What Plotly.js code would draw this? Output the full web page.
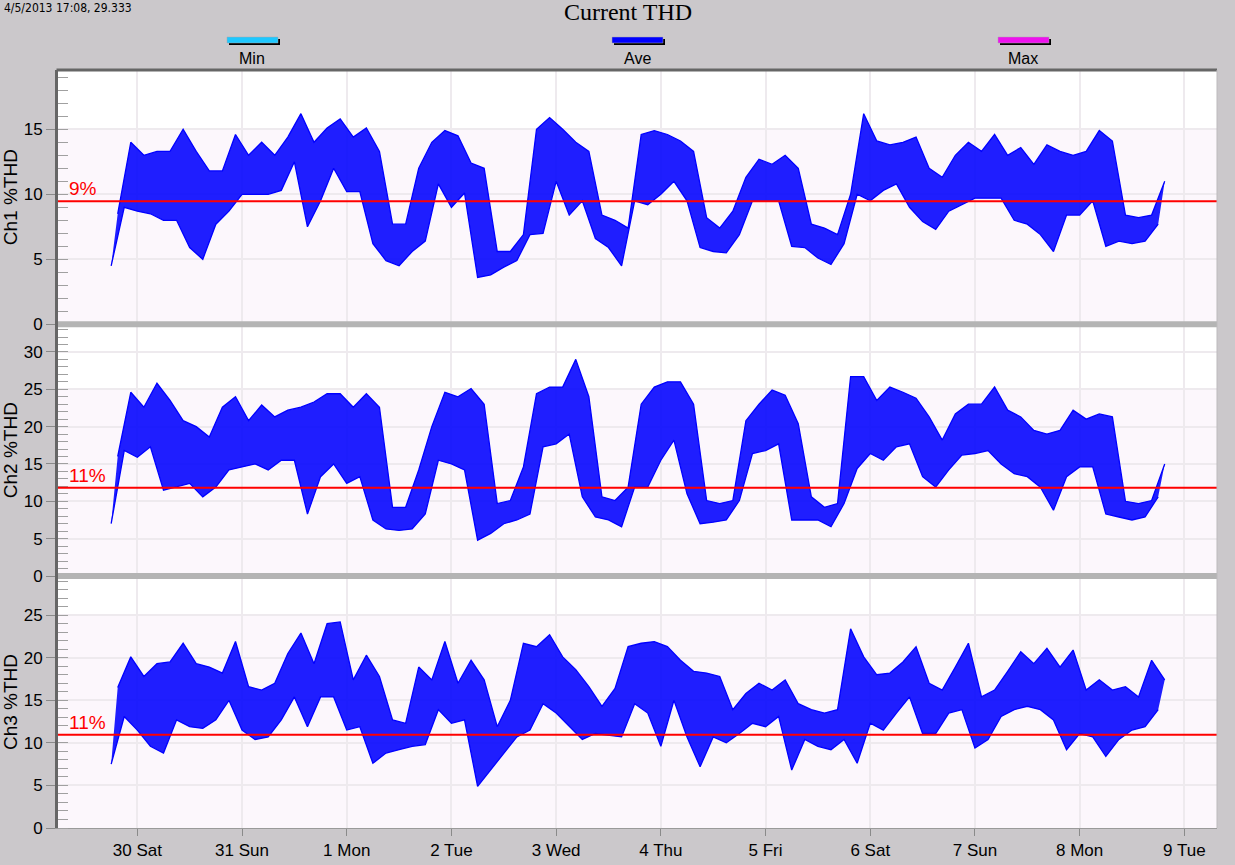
<!DOCTYPE html>
<html>
<head>
<meta charset="utf-8">
<script src="https://cdn.plot.ly/plotly-3.0.1.min.js"></script>
<style>
  body { margin: 0; background: #cbc8cb; }
  #chart { width: 1235px; height: 865px; }
</style>
</head>
<body>
<div id="chart"></div>
<script>
// one reading per 3 hours from 29 Mar 2013 18:00: low and high edge of the noisy trace
var sampleStart = Date.UTC(2013, 2, 29, 18, 0);
var sampleStepH = 3;

var ch1Lo = [4.5, 9, 8.7, 8.5, 8, 8, 5.9, 5.0, 7.7, 8.7, 10, 10, 10, 10.3, 12.5, 7.5, 9.5, 12, 10.2, 10.2,
  6.2, 4.9, 4.5, 5.6, 6.4, 10.8, 9, 10.1, 3.6, 3.8, 4.4, 4.9, 6.9, 7, 11, 8.4, 9.5, 6.6, 5.9, 4.5,
  9.5, 9.2, 10, 11, 9.5, 5.9, 5.6, 5.5, 6.9, 9.5, 9.5, 9.5, 6, 5.9, 5.1, 4.6, 6.2, 10, 9.5, 10.3,
  10.8, 9, 7.9, 7.3, 8.7, 9.2, 9.7, 9.7, 9.7, 8, 7.7, 6.9, 5.6, 8.4, 8.4, 9.5, 6, 6.4, 6.2, 6.4, 7.7];
var ch1Hi = [8.5, 14, 13, 13.3, 13.3, 15, 13.3, 11.8, 11.8, 14.6, 13, 14, 13, 14.4, 16.2, 14, 15.1, 15.8, 14.4, 15.1,
  13.3, 7.7, 7.7, 12, 14, 14.9, 14.5, 12.4, 12, 5.6, 5.6, 6.9, 15, 15.9, 15, 14, 13.3, 8.4, 8, 7.4,
  14.6, 14.9, 14.6, 14.1, 13.3, 8.2, 7.4, 8.7, 11.3, 12.7, 12.3, 13, 12, 7.7, 7.4, 6.9, 10, 16.2, 14.1, 13.8,
  14, 14.4, 12, 11.3, 13, 14, 13.3, 14.6, 13, 13.6, 12.3, 13.8, 13.3, 13, 13.3, 14.9, 14.1, 8.4, 8.2, 8.4, 11];

var ch2Lo = [7, 16.8, 15.9, 17.3, 11.5, 11.9, 12.4, 10.6, 11.9, 14.2, 14.6, 15, 14.2, 15.5, 15.5, 8.3, 13.3, 15, 12.4, 13.3,
  7.5, 6.3, 6.1, 6.3, 8.3, 15.5, 15, 14.2, 4.8, 5.7, 7, 7.5, 8.3, 17.3, 17.7, 19, 10.6, 7.9, 7.5, 6.6,
  11.9, 11.9, 15.5, 18.2, 11, 7, 7.2, 7.5, 10.1, 16.4, 16.8, 17.7, 7.5, 7.5, 7.5, 6.6, 9.7, 14.4, 16.4, 15.5,
  17.3, 17.7, 13.3, 11.9, 14.2, 16.2, 16.4, 16.8, 15, 13.7, 13.3, 11.9, 8.8, 13.3, 14.6, 14.6, 8.3, 7.9, 7.5, 7.9, 10.6];
var ch2Hi = [16, 24.6, 22.6, 25.8, 23.5, 20.8, 20, 18.6, 22.6, 24, 20.8, 22.9, 21.3, 22.2, 22.6, 23.3, 24.4, 24.4, 22.6, 24.4,
  22.6, 9.2, 9.2, 14.2, 20, 24.6, 24, 25.1, 23, 9.7, 10.1, 14.6, 24.4, 25.3, 25.3, 29, 24, 10.6, 10.1, 11.9,
  23, 25.3, 26, 26, 23, 10.1, 9.7, 10.1, 20.8, 23, 24.9, 24.2, 20.4, 10.6, 9.2, 9.7, 26.7, 26.7, 23.5, 25.3,
  24.6, 23.8, 21.3, 18.2, 21.7, 23, 23, 25.3, 22.2, 21.3, 19.5, 19, 19.5, 22.2, 21, 21.7, 21.3, 10, 9.7, 10.1, 15];

var ch3Lo = [7.5, 13.1, 11.5, 9.6, 8.8, 12.7, 11.9, 11.7, 12.7, 15, 11.5, 10.4, 10.7, 12.7, 15.4, 11.9, 15.4, 15.4, 11.5, 11.9,
  7.6, 8.8, 9.2, 9.6, 9.8, 13.9, 12.3, 12.7, 4.9, 6.8, 8.8, 10.7, 11.5, 14.6, 13.5, 11.9, 10.4, 11.1, 10.9, 10.7,
  14.6, 13.5, 9.6, 15, 10.7, 7.2, 10.7, 10, 11.1, 12.3, 11.9, 13.1, 6.8, 10.4, 9.6, 9.2, 10.4, 7.6, 12.3, 11.5,
  13.5, 15.4, 11.1, 11.1, 13.5, 13.9, 9.4, 10.4, 13.1, 13.9, 14.3, 13.9, 12.7, 9.2, 11.1, 10.7, 8.4, 10.4, 11.5, 11.9, 13.9];
var ch3Hi = [16.5, 20.1, 17.8, 19.3, 19.5, 21.7, 19.3, 18.9, 18.2, 21.9, 16.6, 16.2, 17, 20.5, 22.9, 19.3, 24, 24.2, 17.4, 20.3,
  17.8, 12.7, 12.3, 18.9, 17.4, 21.9, 17, 19.7, 17.4, 11.9, 15, 21.7, 21.3, 22.7, 20.1, 18.6, 16.6, 14.3, 16.4, 21.3,
  21.7, 21.9, 21.3, 19.7, 18.4, 18.2, 17.8, 13.9, 15.8, 17, 16.2, 17.4, 14.6, 13.9, 13.5, 13.9, 23.4, 20.1, 18, 18.2,
  19.5, 21.3, 17, 16.2, 18.9, 21.7, 15.4, 16.2, 18.4, 20.7, 19.3, 21.1, 18.9, 20.9, 16.2, 17.4, 16.2, 16.6, 15.4, 19.7, 17.4];

var channelNames = ['Ch1 %THD', 'Ch2 %THD', 'Ch3 %THD'];
var limits = [9.46, 11.8, 10.95];
var limitLabels = ['9%', '11%', '11%'];
var yMax = [19.56, 33.7, 29.6];
var bandTop = [15, 25, 25];
var legendNames = ['Min', 'Ave', 'Max'];
var legendColors = ['#1ec8ff', '#0000ff', '#ee11ee'];
var cursorText = '4/5/2013 17:08, 29.333';

// page geometry (pixels)
var W = 1235, H = 865, ML = 58, MR = 18, MT = 70, MB = 37;
var plotW = W - ML - MR, plotH = H - MT - MB;
function px(x) { return (x - ML) / plotW; }
function py(y) { return (H - MB - y) / plotH; }

var hour = 3600000;
var tLo = ch1Lo.map(function (v, i) { return sampleStart + i * sampleStepH * hour; });
var tHi = tLo.map(function (t) { return t + sampleStepH * hour / 2; });

// top panel first: Ch1 -> y3, Ch2 -> y2, Ch3 -> y
var axisIds = ['y3', 'y2', 'y'];
var domains = [[py(324.3), 1], [py(576), py(324.3)], [0, py(576)]];
var lows = [ch1Lo, ch2Lo, ch3Lo];
var highs = [ch1Hi, ch2Hi, ch3Hi];

var data = [];
lows.forEach(function (lo, i) {
  data.push({x: tLo, y: lo, type: 'scatter', mode: 'lines', xaxis: 'x', yaxis: axisIds[i],
    line: {color: '#0000ff', width: 1.3}, hoverinfo: 'skip', showlegend: false});
  data.push({x: tHi, y: highs[i], type: 'scatter', mode: 'lines', xaxis: 'x', yaxis: axisIds[i],
    fill: 'tonexty', fillcolor: 'rgba(0,0,255,0.88)',
    line: {color: '#0000ff', width: 1.3}, hoverinfo: 'skip', showlegend: false});
});

var font = 'Liberation Sans, Arial, sans-serif';

function yAxis(i) {
  return {
    domain: domains[i], range: [0, yMax[i]], anchor: 'x',
    dtick: 5, tick0: 0,
    ticks: 'outside', ticklen: 9, tickcolor: '#8a8a8a', tickwidth: 1,
    tickfont: {family: font, size: 17, color: '#000'},
    minor: {ticks: 'inside', ticklen: 10, dtick: 1, tickcolor: '#a0a0a0', showgrid: false},
    showgrid: true, gridcolor: '#eeeaee', gridwidth: 2,
    showline: true, linecolor: '#666666', linewidth: 3,
    zeroline: false, fixedrange: true,
    title: {text: channelNames[i], font: {family: font, size: 19, color: '#000'}, standoff: 4}
  };
}

var shapes = [];
var annotations = [];

lows.forEach(function (s, i) {
  // faint shaded band
  shapes.push({type: 'rect', xref: 'paper', x0: 0, x1: 1, yref: axisIds[i], y0: 0, y1: bandTop[i],
    fillcolor: '#fcf7fc', line: {width: 0}, layer: 'below'});
  // limit line
  shapes.push({type: 'line', xref: 'paper', x0: 0, x1: 1, yref: axisIds[i], y0: limits[i], y1: limits[i],
    line: {color: '#ff0000', width: 2}});
  annotations.push({xref: 'paper', x: px(67), xanchor: 'left', yref: axisIds[i], y: limits[i],
    yanchor: 'bottom', text: limitLabels[i], showarrow: false,
    font: {family: font, size: 19, color: '#ff0000'}});
});

// grey separators between panels
[324.3, 576].forEach(function (y) {
  shapes.push({type: 'line', xref: 'paper', x0: 0, x1: 1, yref: 'paper', y0: py(y), y1: py(y),
    line: {color: '#b4b4b4', width: 6}});
});
// frame top and right
shapes.push({type: 'line', xref: 'paper', x0: px(56.5), x1: 1, yref: 'paper', y0: 1, y1: 1,
  line: {color: '#666666', width: 3}});
shapes.push({type: 'line', xref: 'paper', x0: 1, x1: 1, yref: 'paper', y0: 0, y1: 1,
  line: {color: '#bdbabd', width: 1}});

// legend keys
var legendCenters = [252, 637, 1023];
legendNames.forEach(function (name, i) {
  var cx = legendCenters[i];
  shapes.push({type: 'rect', xref: 'paper', yref: 'paper',
    x0: px(cx - 23), x1: px(cx + 28), y0: py(45), y1: py(39),
    fillcolor: '#000000', line: {width: 0}});
  shapes.push({type: 'rect', xref: 'paper', yref: 'paper',
    x0: px(cx - 25), x1: px(cx + 26), y0: py(43), y1: py(37),
    fillcolor: legendColors[i], line: {color: '#a8a8a8', width: 0.5}});
  annotations.push({xref: 'paper', yref: 'paper', x: px(cx), y: py(58), xanchor: 'center', yanchor: 'middle',
    text: name, showarrow: false, font: {family: font, size: 16, color: '#000'}});
});

annotations.push({xref: 'paper', yref: 'paper', x: px(2), y: py(8), xanchor: 'left', yanchor: 'middle',
  text: cursorText, showarrow: false,
  font: {family: 'Liberation Sans Narrow, DejaVu Sans Condensed, Arial Narrow, sans-serif', size: 12, color: '#000'}});

var layout = {
  width: W, height: H,
  paper_bgcolor: '#cbc8cb',
  plot_bgcolor: '#ffffff',
  margin: {l: ML, r: MR, t: MT, b: MB, pad: 0},
  showlegend: false,
  title: {
    text: 'Current THD',
    font: {family: 'Liberation Serif, Times New Roman, serif', size: 24, color: '#000'},
    x: 628 / W, xanchor: 'center', y: 1 - 12 / H, yanchor: 'middle'
  },
  xaxis: {
    type: 'date', anchor: 'y', domain: [0, 1],
    range: ['2013-03-29 05:49', '2013-04-09 07:29'],
    tick0: '2013-03-30', dtick: 86400000, tickformat: '%-d %a',
    ticks: 'outside', ticklen: 7, tickcolor: '#8a8a8a',
    tickfont: {family: font, size: 17, color: '#000'},
    showgrid: true, gridcolor: '#eeeaee', gridwidth: 2,
    showline: true, linecolor: '#9a9a9a', linewidth: 1,
    zeroline: false, fixedrange: true
  },
  yaxis3: yAxis(0),
  yaxis2: yAxis(1),
  yaxis: yAxis(2),
  shapes: shapes,
  annotations: annotations
};

Plotly.newPlot('chart', data, layout, {displayModeBar: false, staticPlot: true});
</script>
</body>
</html>
